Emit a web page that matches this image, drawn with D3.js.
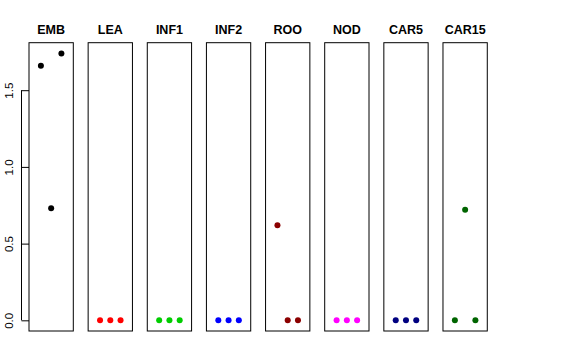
<!DOCTYPE html>
<html>
<head>
<meta charset="utf-8">
<script src="https://cdn.jsdelivr.net/npm/d3@7"></script>
<style>
  body { margin: 0; background: #fff; }
  svg { display: block; }
</style>
</head>
<body>
<script>
var width = 576, height = 360;

// data
var categories = ["EMB", "LEA", "INF1", "INF2", "ROO", "NOD", "CAR5", "CAR15"];
var colors = ["#000000", "#ff0000", "#00cd00", "#0000ff", "#8b0000", "#ff00ff", "#000080", "#006400"];
var positions = [1, 2, 3];
var embVals = [1.66, 0.73, 1.74];
var leaVals = [0, 0, 0];
var inf1Vals = [0, 0, 0];
var inf2Vals = [0, 0, 0];
var rooVals = [0.62, 0, 0];
var nodVals = [0, 0, 0];
var car5Vals = [0, 0, 0];
var car15Vals = [0, 0.72, 0];
var series = [embVals, leaVals, inf1Vals, inf2Vals, rooVals, nodVals, car5Vals, car15Vals];
var yTicks = [0, 0.5, 1.0, 1.5];

// layout
var panelLeft = 29, panelStep = 59.14, panelW = 44.3;
var plotTop = 42.7, plotBottom = 331;

var svg = d3.select("body").append("svg")
    .attr("width", width)
    .attr("height", height)
    .style("font-family", "'Liberation Sans', Arial, sans-serif");

// shared y scale (R style 4% padding)
var yMax = d3.max(series, function(s) { return d3.max(s); });
var pad = yMax * 0.04;
var y = d3.scaleLinear().domain([0 - pad, yMax + pad]).range([plotBottom, plotTop]);

// x scale within a panel: 0..4 padded
var xDom = [-0.16, 4.16];

categories.forEach(function(cat, i) {
  var x0 = panelLeft + i * panelStep;
  var x = d3.scaleLinear().domain(xDom).range([x0, x0 + panelW]);
  var g = svg.append("g");

  g.append("rect")
    .attr("x", x0)
    .attr("y", plotTop)
    .attr("width", panelW)
    .attr("height", plotBottom - plotTop)
    .attr("fill", "none")
    .attr("stroke", "#000")
    .attr("stroke-width", 1);

  g.append("text")
    .attr("x", x0 + panelW / 2)
    .attr("y", 34.3)
    .attr("text-anchor", "middle")
    .style("font-weight", "bold")
    .style("font-size", "12.5px")
    .text(cat);

  g.selectAll("circle")
    .data(series[i])
    .enter().append("circle")
    .attr("cx", function(d, j) { return x(positions[j]); })
    .attr("cy", function(d) { return y(d); })
    .attr("r", 3)
    .attr("fill", colors[i]);
});

// y axis on first panel only
var axis = d3.axisLeft(y)
    .tickValues(yTicks)
    .tickSize(7.5)
    .tickFormat(d3.format(".1f"));

var ax = svg.append("g")
    .attr("transform", "translate(" + panelLeft + ",0)")
    .call(axis);
ax.select(".domain")
    .attr("d", "M-7.5," + y(0) + "V" + y(1.5))
    .attr("stroke", "#000");
ax.selectAll(".tick line").attr("stroke", "#000");
ax.selectAll(".tick text")
    .attr("x", null).attr("dy", null)
    .attr("text-anchor", "middle")
    .attr("transform", "translate(-16,0) rotate(-90)")
    .style("font-size", "11.5px")
    .style("font-family", "'Liberation Sans', Arial, sans-serif")
    .attr("fill", "#000");
</script>
</body>
</html>
